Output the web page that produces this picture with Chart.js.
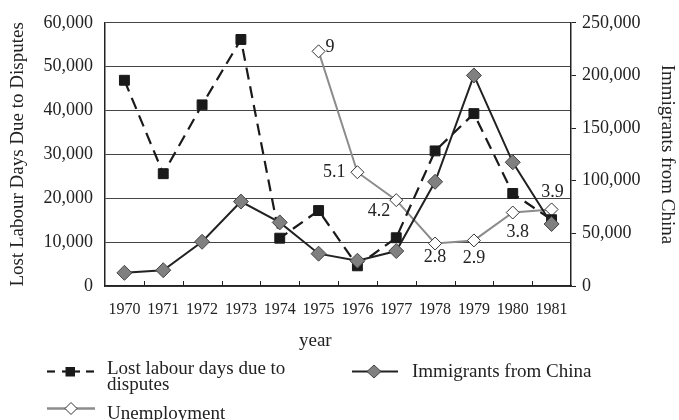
<!DOCTYPE html>
<html>
<head>
<meta charset="utf-8">
<script src="https://cdn.jsdelivr.net/npm/chart.js@4.4.1/dist/chart.umd.min.js"></script>
<style>
  html, body { margin: 0; padding: 0; background: #fff; }
  #wrap { position: relative; width: 679px; height: 420px; overflow: hidden;
          font-family: "Liberation Serif", serif; color: #222; }
  canvas { position: absolute; left: 0; top: 0; }
  .t { position: absolute; white-space: nowrap; font-size: 19px; line-height: 19px; }
  svg.k { position: absolute; left: 0; top: 0; }
</style>
</head>
<body>
<div id="wrap">
  <canvas id="chart" width="679" height="420"></canvas>
  <div class="t" style="left:299px; top:330px;">year</div>

  <!-- legend -->
  <svg class="k" width="679" height="420">
    <g stroke="#1a1a1a" stroke-width="2.2">
      <line x1="47" y1="371.5" x2="55" y2="371.5"/>
      <line x1="62" y1="371.5" x2="80" y2="371.5"/>
      <line x1="86" y1="371.5" x2="94" y2="371.5"/>
    </g>
    <rect x="65.5" y="367" width="9.5" height="9.5" fill="#1a1a1a"/>
    <line x1="352" y1="371.5" x2="398" y2="371.5" stroke="#222" stroke-width="2"/>
    <polygon points="374,365 381,371.5 374,378 367,371.5" fill="#808080" stroke="#444" stroke-width="1"/>
    <line x1="47" y1="408.5" x2="95" y2="408.5" stroke="#8c8c8c" stroke-width="2.5"/>
    <polygon points="71,402.5 77,408.5 71,414.5 65,408.5" fill="#fff" stroke="#333" stroke-width="1"/>
  </svg>
  <div class="t" style="left:107px; top:360px; line-height:16px;">Lost labour days due to<br>disputes</div>
  <div class="t" style="left:412px; top:361px;">Immigrants from China</div>
  <div class="t" style="left:107px; top:403px;">Unemployment</div>
</div>

<script>
// categories and values
const years = ['1970', '1971', '1972', '1973', '1974', '1975', '1976', '1977', '1978', '1979', '1980', '1981'];
const lostDays = [46900, 25600, 41300, 56200, 10900, 17200, 4600, 11000, 30800, 39300, 21100, 15100];
const immigrants = [12500, 15000, 42000, 80200, 60400, 30700, 24000, 33200, 99000, 200000, 117500, 58900];
const unemployment = [null, null, null, null, null, 9, 5.1, 4.2, 2.8, 2.9, 3.8, 3.9];
const unemploymentLabels = ['', '', '', '', '', '9', '5.1', '4.2', '2.8', '2.9', '3.8', '3.9'];
const leftTicks = [0, 10000, 20000, 30000, 40000, 50000, 60000];
const rightTicks = [0, 50000, 100000, 150000, 200000, 250000];

// where each unemployment label sits relative to its point
const labelPlace = {
  5: { dx: 7, dy: -4, align: 'left' },
  6: { dx: -12, dy: 0, align: 'right' },
  7: { dx: -6, dy: 11, align: 'right' },
  8: { dx: 0, dy: 14, align: 'center' },
  9: { dx: 0, dy: 18, align: 'center' },
  10: { dx: 5, dy: 20, align: 'center' },
  11: { dx: 1, dy: -17, align: 'center' }
};

Chart.defaults.font.family = '"Liberation Serif", serif';
Chart.defaults.color = '#222';

const fmt = v => v.toLocaleString('en-US');

// small inward tick marks on the category axis
const innerTicks = {
  id: 'innerTicks',
  beforeDatasetsDraw(chart) {
    const xs = chart.scales.x;
    const bottom = chart.chartArea.bottom;
    const ctx = chart.ctx;
    ctx.save();
    ctx.strokeStyle = '#222';
    ctx.lineWidth = 1;
    for (let i = 1; i < years.length; i++) {
      const px = Math.round((xs.getPixelForValue(i - 1) + xs.getPixelForValue(i)) / 2) + 0.5;
      ctx.beginPath();
      ctx.moveTo(px, bottom);
      ctx.lineTo(px, bottom - 5);
      ctx.stroke();
    }
    ctx.restore();
  }
};

// value labels next to the unemployment points
const unempLabels = {
  id: 'unempLabels',
  afterDatasetsDraw(chart) {
    const meta = chart.getDatasetMeta(2);
    const ctx = chart.ctx;
    ctx.save();
    ctx.font = '18px "Liberation Serif", serif';
    ctx.fillStyle = '#222';
    ctx.textBaseline = 'middle';
    meta.data.forEach((pt, i) => {
      const p = labelPlace[i];
      if (!p || unemployment[i] == null) return;
      ctx.textAlign = p.align;
      ctx.fillText(unemploymentLabels[i], pt.x + p.dx, pt.y + p.dy);
    });
    ctx.restore();
  }
};

new Chart(document.getElementById('chart'), {
  type: 'line',
  data: {
    labels: years,
    datasets: [
      {
        label: 'Immigrants from China',
        data: immigrants,
        yAxisID: 'yR',
        borderColor: '#222',
        borderWidth: 2,
        pointStyle: 'rectRot',
        pointRadius: 7.5,
        pointBackgroundColor: '#808080',
        pointBorderColor: '#444',
        pointBorderWidth: 1,
        tension: 0,
        order: 0
      },
      {
        label: 'Lost labour days due to disputes',
        data: lostDays,
        yAxisID: 'y',
        borderColor: '#1a1a1a',
        borderWidth: 2.2,
        borderDash: [12, 7],
        pointStyle: 'rect',
        pointRadius: 7,
        pointBackgroundColor: '#1a1a1a',
        pointBorderColor: '#1a1a1a',
        pointBorderWidth: 1,
        tension: 0,
        order: 1
      },
      {
        label: 'Unemployment',
        data: unemployment,
        yAxisID: 'yU',
        borderColor: '#8c8c8c',
        borderWidth: 2,
        pointStyle: 'rectRot',
        pointRadius: 6.5,
        pointBackgroundColor: '#fff',
        pointBorderColor: '#333',
        pointBorderWidth: 1,
        tension: 0,
        order: 2
      }
    ]
  },
  options: {
    responsive: false,
    animation: false,
    devicePixelRatio: 1,
    layout: { padding: { top: 20, left: 0, right: 0, bottom: 0 } },
    plugins: { legend: { display: false }, tooltip: { enabled: false } },
    scales: {
      x: {
        offset: true,
        grid: { display: false },
        border: { display: true, color: '#222', width: 1.5 },
        ticks: { font: { size: 16 }, padding: 6, maxRotation: 0, autoSkip: false },
        afterFit(s) { s.height = 134; }
      },
      y: {
        position: 'left',
        min: 0, max: 60000,
        afterBuildTicks(s) { s.ticks = leftTicks.map(v => ({ value: v })); },
        grid: { color: '#444', lineWidth: 1, drawTicks: false },
        border: { display: true, color: '#222', width: 1.5 },
        ticks: { font: { size: 18 }, padding: 12, callback: v => fmt(v) },
        title: { display: true, text: 'Lost Labour Days Due to Disputes', font: { size: 19 }, padding: { top: 7, bottom: 0 } },
        afterFit(s) { s.width = 105; }
      },
      yR: {
        position: 'right',
        min: 0, max: 250000,
        afterBuildTicks(s) { s.ticks = rightTicks.map(v => ({ value: v })); },
        grid: { drawOnChartArea: false, drawTicks: true, tickLength: 5, color: '#222' },
        border: { display: true, color: '#222', width: 1.5 },
        ticks: { font: { size: 18 }, padding: 6, callback: v => fmt(v) },
        title: { display: true, text: 'Immigrants from China', font: { size: 19 }, padding: { top: 1, bottom: 0 } },
        afterFit(s) { s.width = 108; }
      },
      yU: {
        display: false,
        min: 1.43, max: 9.92
      }
    }
  },
  plugins: [innerTicks, unempLabels]
});
</script>
</body>
</html>
